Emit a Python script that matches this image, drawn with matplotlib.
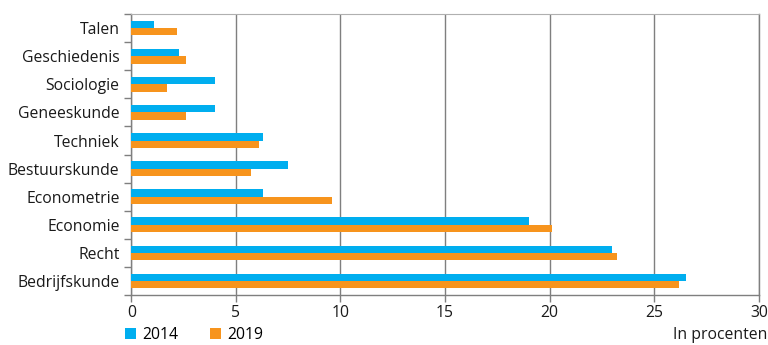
import numpy as np
import matplotlib.pyplot as plt

plt.rcParams['font.family'] = ['Open Sans', 'DejaVu Sans']

# studies, top to bottom as in the picture
categories = ['Talen', 'Geschiedenis', 'Sociologie', 'Geneeskunde', 'Techniek',
              'Bestuurskunde', 'Econometrie', 'Economie', 'Recht', 'Bedrijfskunde']
values_2014 = [1.1, 2.3, 4.0, 4.0, 6.3, 7.5, 6.3, 19.0, 23.0, 26.5]
values_2019 = [2.2, 2.6, 1.7, 2.6, 6.1, 5.7, 9.6, 20.1, 23.2, 26.2]
xticks = [0, 5, 10, 15, 20, 25, 30]

blue = '#00aeef'
orange = '#f7941d'
grey = '#7f7f7f'
fs = 11.3

fig = plt.figure(figsize=(7.68, 3.45), dpi=100)
ax = fig.add_axes([0.171, 0.145, 0.817, 0.814])

y = np.arange(len(categories))
h = 0.26
ax.barh(y - h / 2, values_2014, height=h, color=blue, label='2014', zorder=3)
ax.barh(y + h / 2, values_2019, height=h, color=orange, label='2019', zorder=3)

ax.set_ylim(len(categories) - 0.5, -0.5)
ax.set_xlim(0, 30)
ax.set_yticks(y)
ax.set_yticklabels(categories, fontsize=fs, color='#1a1a1a')
ax.set_yticks(np.arange(-0.5, len(categories), 1), minor=True)
ax.tick_params(axis='y', which='major', length=0, pad=8.5)
ax.tick_params(axis='y', which='minor', length=5, color=grey, width=1)
ax.set_xticks(xticks)
ax.set_xticklabels([str(t) for t in xticks], fontsize=fs, color='#1a1a1a')
ax.tick_params(axis='x', length=5, color=grey, width=1, pad=2)

ax.grid(axis='x', color=grey, linewidth=1, zorder=1)
for s in ['left', 'bottom', 'right']:
    ax.spines[s].set_color(grey)
    ax.spines[s].set_linewidth(1)
ax.spines['top'].set_color('#b0b0b0')

fig.text(0.999, 0.03, 'In procenten', ha='right', va='center', fontsize=fs, color='#1a1a1a')
fig.legend(loc='center left', bbox_to_anchor=(0.163, 0.03), ncol=2, frameon=False,
           fontsize=fs, handlelength=0.7, handleheight=0.7, handletextpad=0.4,
           columnspacing=2.0, borderaxespad=0, borderpad=0)

fig.savefig('out.png', dpi=100)
